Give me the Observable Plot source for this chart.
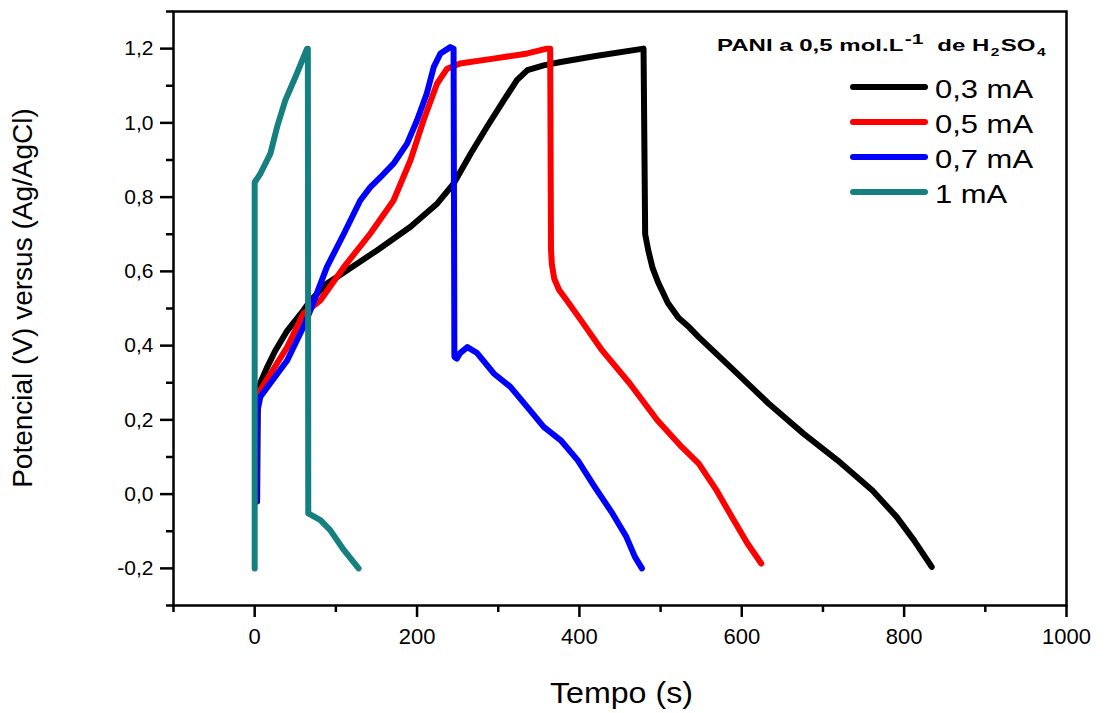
<!DOCTYPE html>
<html>
<head>
<meta charset="utf-8">
<script src="https://cdn.jsdelivr.net/npm/d3@7"></script>
<script src="https://cdn.jsdelivr.net/npm/@observablehq/plot@0.6"></script>
<style>
  html, body { margin: 0; padding: 0; background: #fff; }
  #wrap { position: relative; width: 1106px; height: 713px; font-family: "Liberation Sans", Arial, sans-serif; color: #000; }
  #wrap svg { position: absolute; left: 0; top: 0; }
  .abs { position: absolute; white-space: nowrap; }
  .ytitle { font-size: 28px; line-height: 28px; width: 500px; text-align: center; transform: rotate(-90deg); transform-origin: center center; }
  .xtitle { font-size: 29px; line-height: 29px; transform-origin: center center; }
  .ltitle { font-size: 17px; line-height: 17px; font-weight: bold; transform-origin: left center; }
  .ltitle sup { font-size: 15px; position: relative; top: -7px; vertical-align: baseline; margin-left: 1px; margin-right: 5px; }
  .ltitle sub { font-size: 11px; position: relative; top: 5px; vertical-align: baseline; margin: 0 1px; }
  .lswatch { height: 6px; border-radius: 3px; }
  .llabel { font-size: 26px; line-height: 26px; transform-origin: left center; }
</style>
</head>
<body>
<div id="wrap"></div>
<script>
// ---- data ----
const seriesNames = ["0,3 mA", "0,5 mA", "0,7 mA", "1 mA"];
const seriesColors = ["#000000", "#ff0000", "#0000ff", "#168080"];

// 0,3 mA
const time03 = [3, 4, 7, 15, 25, 40, 60, 69, 89, 114, 151, 192, 225, 245, 266, 286, 307, 323, 336, 356, 377, 420, 479, 481, 485, 490, 497, 509, 522, 535, 547, 590, 633, 676, 718, 761, 791, 812, 834];
const volt03 = [-0.02, 0.26, 0.30, 0.34, 0.385, 0.44, 0.495, 0.522, 0.567, 0.603, 0.657, 0.72, 0.783, 0.836, 0.917, 0.989, 1.061, 1.115, 1.142, 1.155, 1.164, 1.18, 1.20, 0.70, 0.655, 0.61, 0.57, 0.515, 0.475, 0.45, 0.423, 0.334, 0.244, 0.163, 0.091, 0.01, -0.062, -0.124, -0.196];

// 0,5 mA
const time05 = [2, 3, 7, 40, 60, 81, 110, 142.5, 171, 192, 208, 224.7, 237, 253, 294, 336, 360, 364, 365, 366, 369, 375, 385, 402, 428, 462, 496, 526, 547, 569, 590, 607, 624];
const volt05 = [-0.02, 0.24, 0.28, 0.396, 0.486, 0.522, 0.612, 0.702, 0.791, 0.9, 1.007, 1.106, 1.146, 1.16, 1.173, 1.187, 1.2, 1.2, 0.66, 0.62, 0.58, 0.55, 0.52, 0.468, 0.387, 0.298, 0.199, 0.127, 0.082, 0.01, -0.07, -0.133, -0.187];

// 0,7 mA
const time07 = [2, 3, 7, 19, 40, 60, 68.6, 89, 110, 130, 142.5, 155, 171, 187.7, 200, 212, 220.5, 228.8, 241, 245, 246, 249, 253, 262, 274, 294.5, 315, 335.6, 356, 377, 398, 419, 440.7, 457.8, 468.4, 477];
const volt07 = [-0.02, 0.22, 0.262, 0.298, 0.36, 0.45, 0.495, 0.612, 0.702, 0.791, 0.827, 0.854, 0.89, 0.944, 1.007, 1.079, 1.15, 1.187, 1.204, 1.2, 0.37, 0.365, 0.38, 0.396, 0.38, 0.325, 0.289, 0.235, 0.181, 0.145, 0.091, 0.019, -0.052, -0.115, -0.169, -0.2];

// 1 mA
const time1 = [0, 0, 7, 19.3, 27.6, 37.8, 52, 64.5, 65.5, 66, 81, 93, 110, 128];
const volt1 = [-0.2, 0.84, 0.863, 0.917, 0.989, 1.061, 1.133, 1.2, 1.2, -0.052, -0.07, -0.097, -0.151, -0.2];

// ticks
const xMajorTicks = [0, 200, 400, 600, 800, 1000];
const xMinorTicks = [-100, 100, 300, 500, 700, 900];
const yMajorTicks = [-0.2, 0, 0.2, 0.4, 0.6, 0.8, 1.0, 1.2];
const yMinorTicks = [-0.3, -0.1, 0.1, 0.3, 0.5, 0.7, 0.9, 1.1, 1.3];

const xTitle = "Tempo (s)";
const yTitle = "Potencial (V) versus (Ag/AgCl)";
const legendTitleHTML = "PANI a 0,5 mol.L<sup>-1</sup> de H<sub>2</sub>SO<sub>4</sub>";

// ---- build table ----
const allSeries = [[time03, volt03], [time05, volt05], [time07, volt07], [time1, volt1]];
const data = [];
allSeries.forEach(([ts, vs], i) => ts.forEach((t, j) => data.push({t, v: vs[j], s: seriesNames[i]})));

const fmtY = d => d.toFixed(1).replace(".", ",");

const chart = Plot.plot({
  width: 1106,
  height: 713,
  marginLeft: 173,
  marginRight: 40,
  marginTop: 11,
  marginBottom: 108,
  x: {domain: [-100, 1000]},
  y: {domain: [-0.3, 1.3]},
  color: {domain: seriesNames, range: seriesColors},
  style: {fontFamily: '"Liberation Sans", Arial, sans-serif', background: "white", color: "black"},
  marks: [
    Plot.axisX({ticks: xMinorTicks, tickSize: 7, tickFormat: () => "", strokeWidth: 2.5, label: null}),
    Plot.axisX({ticks: xMajorTicks, tickSize: 12, tickPadding: 11, tickFormat: d => String(d), fontSize: 22, strokeWidth: 2.5, label: null}),
    Plot.axisY({ticks: yMinorTicks, tickSize: 7, tickFormat: () => "", strokeWidth: 2.5, label: null}),
    Plot.axisY({ticks: yMajorTicks, tickSize: 13, tickPadding: 7, tickFormat: fmtY, fontSize: 21, strokeWidth: 2.5, label: null}),
    Plot.line(data, {x: "t", y: "v", z: "s", stroke: "s", strokeWidth: 6, curve: "linear", strokeLinejoin: "round", strokeLinecap: "round"}),
    Plot.frame({stroke: "black", strokeWidth: 2.5})
  ]
});

const wrap = document.getElementById("wrap");
wrap.appendChild(chart);

function addDiv(cls, html, left, top) {
  const d = document.createElement("div");
  d.className = "abs " + cls;
  d.innerHTML = html;
  d.style.left = left + "px";
  d.style.top = top + "px";
  wrap.appendChild(d);
  return d;
}

// y title: centred at (23, 297.5)
addDiv("ytitle", yTitle, 23 - 250, 297.5 - 14);
// x title: centred at x=621, cap centre y=693
const xt = addDiv("xtitle", xTitle, 0, 693 - 14.5);
const xw = xt.getBoundingClientRect().width;
xt.style.left = (621 - xw / 2) + "px";
xt.style.transform = "scaleX(" + (143 / xw).toFixed(3) + ")";

// legend title
const lt = addDiv("ltitle", legendTitleHTML, 716.7, 51.7 - 14.4);
const ltw = lt.getBoundingClientRect().width;
lt.style.transform = "scaleX(" + (330 / ltw).toFixed(3) + ")";

// legend rows
let labelScale = null;
seriesNames.forEach((name, i) => {
  const rowY = 86.7 + i * 35;
  const sw = addDiv("lswatch", "", 850, rowY - 3);
  sw.style.width = "78px";
  sw.style.background = seriesColors[i];
  const lab = addDiv("llabel", name, 935, rowY - 10.4);
  if (labelScale === null) labelScale = 98 / lab.getBoundingClientRect().width;
  lab.style.transform = "scaleX(" + labelScale.toFixed(3) + ")";
});
</script>
</body>
</html>
